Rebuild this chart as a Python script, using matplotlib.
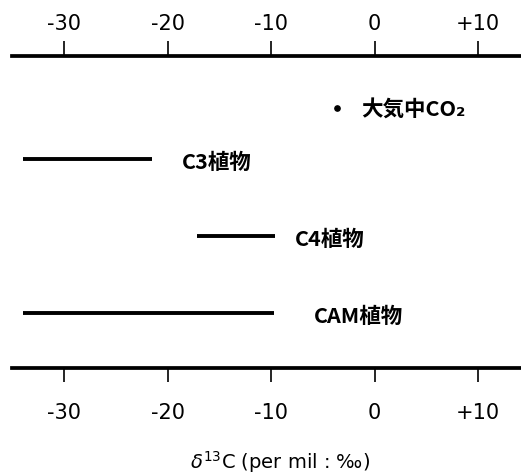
import matplotlib
matplotlib.use('Agg')
import matplotlib.pyplot as plt

# delta 13C ranges (per mil)
groups = ['C3植物', 'C4植物', 'CAM植物']
starts = [-34.0, -17.2, -34.0]
ends = [-21.5, -9.6, -9.7]
co2_label = '大気中CO₂'
co2_value = -3.6
tick_values = [-30, -20, -10, 0, 10]
tick_labels = ['-30', '-20', '-10', '0', '+10']

# row positions and label offsets (layout only)
rows = [1, 2, 3]
co2_row = 0.33
label_gap = [2.9, 1.9, 3.8]
jp = ['Noto Sans CJK JP', 'DejaVu Sans']

fig = plt.figure(figsize=(5.21, 4.77), dpi=100)
ax = fig.add_axes([0.023, 0.2258, 0.977, 0.6541])
ax.set_xlim(-35.03, 14.14)
ax.set_ylim(3.714, -0.338)

for s in ['left', 'right', 'top']:
    ax.spines[s].set_visible(False)
ax.spines['bottom'].set_linewidth(2.7)
ax.yaxis.set_visible(False)

ax.set_xticks(tick_values)
ax.set_xticklabels(tick_labels)
ax.tick_params(axis='x', direction='out', length=10, width=1.2,
               labelsize=15, pad=14)

# scale repeated along the top
top = ax.twiny()
top.set_xlim(ax.get_xlim())
for s in ['left', 'right', 'bottom']:
    top.spines[s].set_visible(False)
top.spines['top'].set_linewidth(2.7)
top.set_xticks(tick_values)
top.set_xticklabels(tick_labels)
top.tick_params(axis='x', direction='out', length=11, width=1.2,
                labelsize=15, pad=6)

for i, g in enumerate(groups):
    ax.plot([starts[i], ends[i]], [rows[i], rows[i]], color='black',
            lw=2.8, solid_capstyle='butt')
    ax.text(ends[i] + label_gap[i], rows[i] + 0.03, g, family=jp,
            fontsize=15.5, fontweight='bold', va='center', ha='left')

ax.plot([co2_value], [co2_row], 'o', color='black', ms=3.8)
ax.text(co2_value + 2.3, co2_row, co2_label, family=jp, fontsize=15.5,
        fontweight='bold', va='center', ha='left')

fig.text(280 / 521, 1 - 462 / 477, r'$\delta^{13}$C (per mil : ‰)',
         fontsize=14, ha='center', va='center')

fig.savefig('out.png', dpi=100)
